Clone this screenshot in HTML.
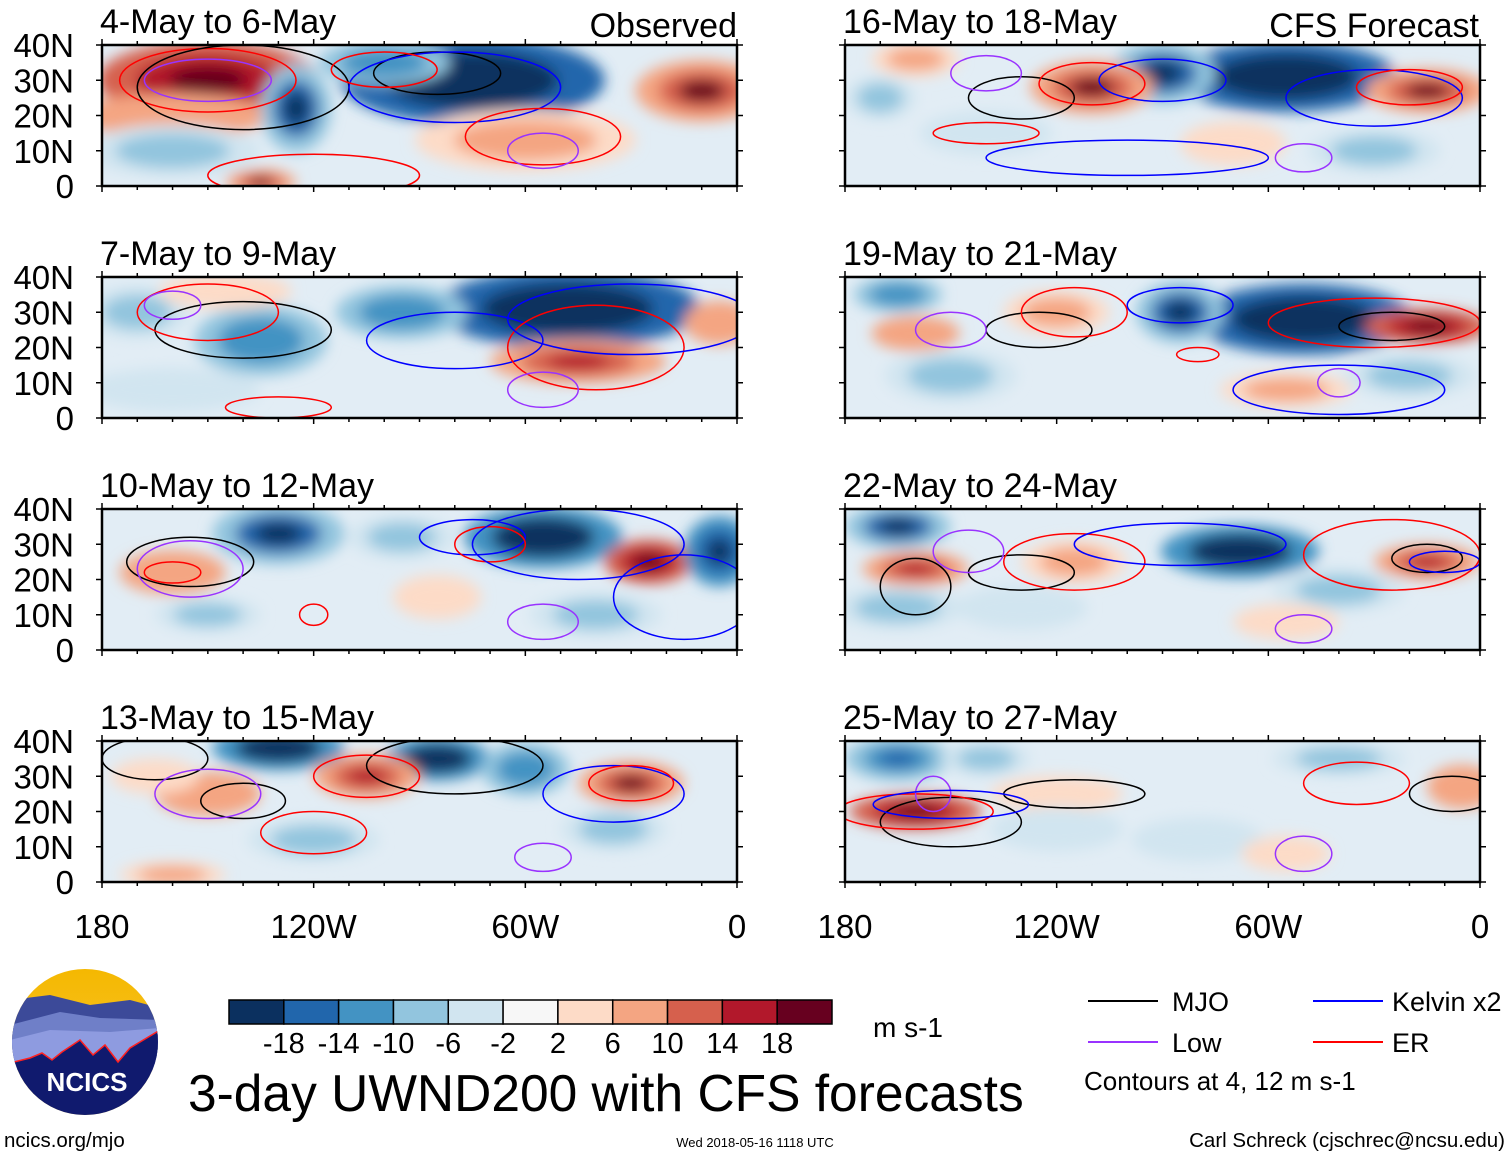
<!DOCTYPE html>
<html><head><meta charset="utf-8">
<style>
html,body{margin:0;padding:0;background:#fff;}
svg{display:block;font-family:"Liberation Sans",Arial,sans-serif;}
</style></head>
<body>
<svg id="fig" width="1510" height="1157" viewBox="0 0 1510 1157" xmlns="http://www.w3.org/2000/svg">
<defs>
<filter id="blur" x="-20%" y="-50%" width="140%" height="200%"><feGaussianBlur stdDeviation="7"/></filter>
<linearGradient id="sky" x1="0" y1="0" x2="0" y2="1"><stop offset="0" stop-color="#f5b800"/><stop offset="1" stop-color="#f7c840"/></linearGradient>
<clipPath id="logoclip"><circle cx="85" cy="1042" r="73"/></clipPath>
</defs>
</svg>
<script>
// colour scale
const levels=[-18,-14,-10,-6,-2,2,6,10,14,18];
const colors=["#0b305f","#2166ac","#4393c3","#92c5de","#d1e5f0","#f7f7f7","#fddbc7","#f4a582","#d6604d","#b2182b","#67001f"];
const lonTicks=["180","120W","60W","0"];
const latTicks=["40N","30N","20N","10N","0"];
const panelTitles=["4-May to 6-May","7-May to 9-May","10-May to 12-May","13-May to 15-May","16-May to 18-May","19-May to 21-May","22-May to 24-May","25-May to 27-May"];
// blobs: [lon, lat, lonSpan, latSpan, value]
const blobsL1=[[-150,30,25,9,18],[-160,20,22,5,10],[-75,30,30,10,-20],[-125,22,8,10,-14],[-60,13,25,7,8],[-10,27,15,7,14],[-160,10,20,6,-8],[-135,1,8,3,14],[-100,35,15,5,-10]];
const blobsL2=[[-48,31,30,9,-20],[-45,16,20,5,12],[-135,22,15,8,-10],[-170,30,12,6,-8],[-145,36,15,4,6],[-5,27,8,5,10],[-160,8,20,5,-4],[-95,30,15,6,-10]];
const blobsL3=[[-130,33,15,7,-14],[-55,32,18,7,-18],[-25,25,10,5,16],[-160,22,12,5,10],[-5,28,8,8,-16],[-150,10,12,4,-8],[-85,15,10,5,6],[-40,10,15,5,-8],[-95,32,12,5,-8]];
const blobsL4=[[-130,38,15,5,-18],[-85,35,12,5,-18],[-105,30,12,5,12],[-150,25,12,5,10],[-30,28,12,5,14],[-60,32,10,6,-10],[-165,30,10,4,6],[-35,15,12,5,-8],[-160,2,12,3,8],[-120,12,15,5,-6]];
const blobsR1=[[-55,31,25,8,-20],[-90,32,12,7,-14],[-110,28,14,6,14],[-15,27,14,5,14],[-160,36,10,4,8],[-170,25,8,5,-8],[-70,12,12,5,6],[-30,10,15,5,-6],[-140,15,15,5,-4]];
const blobsR2=[[-50,28,25,8,-20],[-85,30,10,7,-14],[-120,30,12,5,8],[-15,26,14,4,16],[-160,24,10,4,10],[-165,35,10,4,-10],[-55,8,15,4,8],[-20,12,15,5,-6],[-150,12,15,6,-6]];
const blobsR3=[[-68,28,18,6,-18],[-165,35,12,5,-14],[-160,23,12,4,12],[-115,25,12,5,8],[-15,25,12,4,12],[-40,17,15,5,-6],[-55,8,12,4,6],[-130,12,15,5,-4],[-165,12,15,5,-6]];
const blobsR4=[[-165,35,12,5,-12],[-160,20,15,4,16],[-120,25,15,4,6],[-40,35,15,4,-8],[-5,27,8,5,10],[-80,12,15,5,-4],[-55,8,10,4,6],[-120,15,15,5,-4],[-140,35,10,4,-6]];
const allBlobs=[blobsL1,blobsL2,blobsL3,blobsL4,blobsR1,blobsR2,blobsR3,blobsR4];
// contours: [lon, lat, lonRadius, latRadius, kind]  m=MJO k=Kelvin l=Low e=ER
const contL1=[[-150,30,25,9,"e"],[-150,30,18,6,"l"],[-140,28,30,12,"m"],[-85,32,18,6,"m"],[-80,28,30,10,"k"],[-55,14,22,8,"e"],[-55,10,10,5,"l"],[-120,3,30,6,"e"],[-100,33,15,5,"e"]];
const contL2=[[-140,25,25,8,"m"],[-150,30,20,8,"e"],[-160,32,8,4,"l"],[-80,22,25,8,"k"],[-40,20,25,12,"e"],[-55,8,10,5,"l"],[-30,28,35,10,"k"],[-130,3,15,3,"e"]];
const contL3=[[-155,25,18,7,"m"],[-155,23,15,8,"l"],[-160,22,8,3,"e"],[-120,10,4,3,"e"],[-75,32,15,5,"k"],[-70,30,10,5,"e"],[-45,30,30,10,"k"],[-55,8,10,5,"l"],[-15,15,20,12,"k"]];
const contL4=[[-140,23,12,5,"m"],[-165,35,15,6,"m"],[-80,33,25,8,"m"],[-105,30,15,6,"e"],[-150,25,15,7,"l"],[-35,25,20,8,"k"],[-30,28,12,5,"e"],[-120,14,15,6,"e"],[-55,7,8,4,"l"]];
const contR1=[[-130,25,15,6,"m"],[-110,29,15,6,"e"],[-90,30,18,6,"k"],[-30,25,25,8,"k"],[-20,28,15,5,"e"],[-140,15,15,3,"e"],[-140,32,10,5,"l"],[-50,8,8,4,"l"],[-100,8,40,5,"k"]];
const contR2=[[-125,25,15,5,"m"],[-115,30,15,7,"e"],[-25,26,15,4,"m"],[-30,27,30,7,"e"],[-150,25,10,5,"l"],[-40,8,30,7,"k"],[-40,10,6,4,"l"],[-80,18,6,2,"e"],[-85,32,15,5,"k"]];
const contR3=[[-160,18,10,8,"m"],[-130,22,15,5,"m"],[-145,28,10,6,"l"],[-115,25,20,8,"e"],[-25,27,25,10,"e"],[-15,26,10,4,"m"],[-85,30,30,6,"k"],[-50,6,8,4,"l"],[-10,25,10,3,"k"]];
const contR4=[[-150,17,20,7,"m"],[-115,25,20,4,"m"],[-160,20,22,5,"e"],[-155,25,5,5,"l"],[-35,28,15,6,"e"],[-8,25,12,5,"m"],[-50,8,8,5,"l"],[-150,22,22,4,"k"]];
const allConts=[contL1,contL2,contL3,contL4,contR1,contR2,contR3,contR4];

const NS="http://www.w3.org/2000/svg";
const svg=document.getElementById('fig');
function el(tag,attrs,parent){const e=document.createElementNS(NS,tag);for(const k in attrs)e.setAttribute(k,attrs[k]);(parent||svg).appendChild(e);return e;}
function colorFor(v){let i=0;while(i<levels.length&&v>levels[i])i++;return colors[i];}
const panelW=635,panelH=141;
const px=[102,845], py=[45,277,509,741];
const kindColor={m:"#000",k:"#0000ff",l:"#9933ff",e:"#ff0000"};
const spanK=1.25;

for(let p=0;p<8;p++){
  const x0=px[Math.floor(p/4)], y0=py[p%4];
  const xs=lon=>x0+(lon+180)/180*panelW;
  const ys=lat=>y0+(40-lat)/40*panelH;
  const g=el('g',{});
  
  
  const cid='clip'+p;
  const cp=el('clipPath',{id:cid},svg.querySelector('defs'));
  el('rect',{x:x0,y:y0,width:panelW,height:panelH},cp);
  const fill=el('g',{'clip-path':'url(#'+cid+')'},g);
  el('rect',{x:x0,y:y0,width:panelW,height:panelH,fill:"#e2edf5"},fill);
  const bg=el('g',{filter:'url(#blur)'},fill);
  allBlobs[p].forEach(b=>{
    const e=el('ellipse',{cx:xs(b[0]),cy:ys(b[1]),rx:b[2]*spanK/180*panelW,ry:b[3]*spanK/40*panelH,fill:colorFor(b[4]*0.7)},bg);
    
    
    el('ellipse',{cx:xs(b[0]),cy:ys(b[1]),rx:b[2]*spanK/180*panelW*0.65,ry:b[3]*spanK/40*panelH*0.65,fill:colorFor(b[4])},bg);
    if(Math.abs(b[4])>=12){el('ellipse',{cx:xs(b[0]),cy:ys(b[1]),rx:b[2]*spanK/180*panelW*0.35,ry:b[3]*spanK/40*panelH*0.35,fill:colorFor(b[4]*1.3)},bg);}
  });
  allConts[p].forEach(c=>{
    const e=el('ellipse',{cx:xs(c[0]),cy:ys(c[1]),rx:c[2]/180*panelW,ry:c[3]/40*panelH,fill:"none",stroke:kindColor[c[4]],'stroke-width':1.5},fill);
    
    
  });
  el('rect',{x:x0,y:y0,width:panelW,height:panelH,fill:"none",stroke:"#000",'stroke-width':2.5},g);
  for(let lon=-180;lon<=0;lon+=10){
    const major=lon%60===0;
    el('line',{x1:xs(lon),x2:xs(lon),y1:y0,y2:y0+(major?-6:-4),stroke:"#000",'stroke-width':1.5},g);
    el('line',{x1:xs(lon),x2:xs(lon),y1:y0+panelH,y2:y0+panelH+(major?6:4),stroke:"#000",'stroke-width':1.5},g);
  }
  for(let i=0;i<5;i++){
    const y=ys(40-i*10);
    el('line',{x1:x0-6,x2:x0,y1:y,y2:y,stroke:"#000",'stroke-width':1.5},g);
    el('line',{x1:x0+panelW,x2:x0+panelW+6,y1:y,y2:y,stroke:"#000",'stroke-width':1.5},g);
    if(p<4){const t=el('text',{x:x0-28,y:y+12,'font-size':33,'text-anchor':'end'},g);t.textContent=latTicks[i];
      }
  }
  const tt=el('text',{x:x0-2,y:y0-12,'font-size':34},g);tt.textContent=panelTitles[p];
  
  if(p%4===3){
    lonTicks.forEach((s,i)=>{const t=el('text',{x:xs(-180+i*60),y:938,'font-size':33,'text-anchor':'middle'},g);t.textContent=s;
      });
  }
}
const lab1=el('text',{x:737,y:37,'font-size':34,'text-anchor':'end'});lab1.textContent="Observed";

const lab2=el('text',{x:1479,y:37,'font-size':34,'text-anchor':'end'});lab2.textContent="CFS Forecast";


const cb=el('g',{});
const cbx=229,cbw=603/11;
colors.forEach((c,i)=>{el('rect',{x:cbx+i*cbw,y:1000,width:cbw,height:24,fill:c,stroke:"#000",'stroke-width':1.5},cb);});
levels.forEach((l,i)=>{const t=el('text',{x:cbx+(i+1)*cbw,y:1053,'font-size':29,'text-anchor':'middle'},cb);t.textContent=String(l);
  });
const un=el('text',{x:873,y:1037,'font-size':28});un.textContent="m s-1";
const ti=el('text',{x:188,y:1111,'font-size':51.5});ti.textContent="3-day UWND200 with CFS forecasts";


const lg=el('g',{});
[["MJO","#000",1088,1172,1001],["Kelvin x2","#0000ff",1313,1392,1001],["Low","#9933ff",1088,1172,1042],["ER","#ff0000",1313,1392,1042]].forEach(d=>{
  el('line',{x1:d[2],x2:d[2]+70,y1:d[4],y2:d[4],stroke:d[1],'stroke-width':2},lg);
  const t=el('text',{x:d[3],y:d[4]+10,'font-size':27},lg);t.textContent=d[0];
  
});
const ct=el('text',{x:1084,y:1090,'font-size':26},lg);ct.textContent="Contours at 4, 12 m s-1";
const au=el('text',{x:1505,y:1147,'font-size':20.5,'text-anchor':'end'});au.textContent="Carl Schreck (cjschrec@ncsu.edu)";

const dt=el('text',{x:755,y:1147,'font-size':13,'text-anchor':'middle'});dt.textContent="Wed 2018-05-16 1118 UTC";

const url=el('text',{x:4,y:1147,'font-size':20.5});url.textContent="ncics.org/mjo";


const lo=el('g',{});
const lc=el('g',{'clip-path':'url(#logoclip)'},lo);
el('rect',{x:10,y:968,width:150,height:150,fill:"url(#sky)"},lc);
el('path',{d:"M10 1000 L50 995 L90 1005 L130 1000 L160 1008 L160 1070 L10 1070 Z",fill:"#3c4a99"},lc);
el('path',{d:"M10 1025 L60 1012 L100 1018 L160 1020 L160 1070 L10 1070 Z",fill:"#6f7fc8"},lc);
el('path',{d:"M10 1040 L50 1030 L110 1032 L160 1028 L160 1070 L10 1070 Z",fill:"#8e9be0"},lc);
el('path',{d:"M10 1063 L30 1058 L42 1053 L52 1060 L62 1052 L80 1040 L93 1055 L105 1045 L118 1062 L130 1048 L160 1030 L160 1120 L10 1120 Z",fill:"#101a6e",stroke:"#ff2020",'stroke-width':1.5},lc);
const nt=el('text',{x:87,y:1091,'font-size':26,'font-weight':'bold',fill:"#fff",'text-anchor':'middle'},lo);nt.textContent="NCICS";
</script>
</body></html>
